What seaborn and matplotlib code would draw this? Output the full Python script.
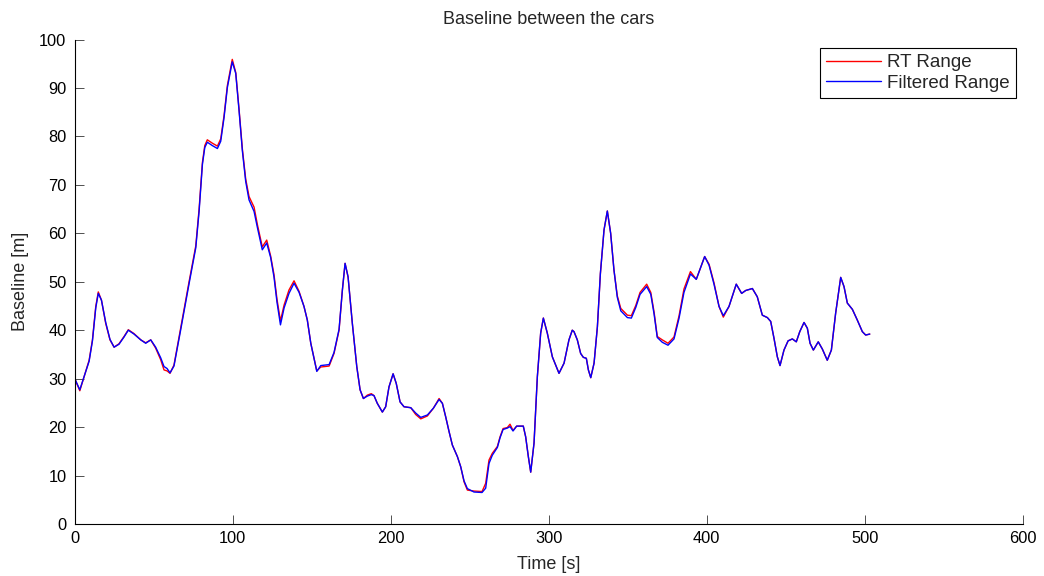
import matplotlib
matplotlib.use("Agg")
import matplotlib.pyplot as plt
import seaborn as sns
import pandas as pd

# values
time_s = [
    0.0, 3.2, 5.9, 9.1, 11.2, 13.3, 14.9, 16.9, 19.6, 22.3, 24.9, 28.0, 31.2, 33.9,
    37.5, 41.8, 44.9, 48.1, 51.2, 54.4, 56.5, 58.4, 60.3, 62.8, 66.9, 72.3, 76.6,
    78.7, 80.8, 82.3, 83.9, 87.1, 90.3, 92.4, 94.5, 96.6, 99.7, 101.9, 104.0, 106.1,
    108.2, 110.3, 113.5, 115.6, 118.7, 121.5, 124.0, 126.1, 128.0, 130.2, 132.5,
    135.6, 138.8, 142.0, 145.1, 147.2, 149.4, 153.2, 155.7, 161.0, 164.1, 167.3,
    169.4, 171.1, 173.0, 175.7, 178.5, 180.6, 182.7, 185.2, 187.7, 189.4, 191.5,
    194.7, 196.8, 198.9, 201.5, 203.5, 205.9, 208.4, 212.7, 215.8, 219.0, 223.2,
    227.0, 230.6, 232.7, 234.8, 236.9, 239.0, 242.2, 244.3, 246.4, 248.5, 252.7,
    257.8, 260.1, 262.2, 264.3, 267.5, 269.2, 271.1, 273.8, 275.5, 277.4, 279.7,
    283.9, 285.4, 287.1, 288.6, 290.7, 292.8, 294.9, 296.6, 299.1, 302.3, 306.5,
    309.7, 312.8, 314.9, 316.0, 318.1, 320.2, 321.9, 323.8, 325.1, 326.6, 328.7,
    330.8, 332.7, 335.0, 337.1, 339.2, 341.3, 343.4, 345.6, 349.8, 352.3, 355.1,
    357.8, 362.0, 364.6, 366.7, 368.7, 371.9, 375.5, 379.3, 382.5, 385.6, 389.7,
    393.4, 398.7, 401.5, 404.6, 407.8, 410.5, 414.1, 418.7, 422.1, 424.7, 428.9,
    432.0, 435.2, 438.4, 440.5, 442.6, 444.7, 446.4, 448.9, 451.5, 454.2, 456.7,
    458.9, 461.6, 463.7, 465.4, 467.5, 470.6, 473.2, 476.3, 478.9, 481.6, 484.8,
    486.9, 489.0, 492.2, 495.3, 498.5, 500.6, 503.2,
]
rt_range = [
    30.0, 27.5, 30.4, 33.8, 38.0, 44.9, 47.9, 46.2, 41.4, 38.0, 36.5, 37.2, 38.7, 40.1,
    39.3, 38.0, 37.4, 38.0, 36.3, 33.9, 31.8, 31.6, 31.1, 32.8, 40.2, 49.9, 57.4,
    65.0, 74.6, 78.1, 79.3, 78.6, 78.0, 79.5, 84.3, 90.5, 95.9, 93.2, 85.6, 77.4,
    71.2, 67.6, 65.4, 61.8, 57.2, 58.6, 55.3, 51.5, 46.4, 41.9, 45.2,
    48.3, 50.2, 48.0, 44.9, 42.1, 37.3, 31.6, 32.4, 32.6, 35.2, 40.0,
    48.3, 53.8, 51.0, 41.4, 32.5, 27.7, 25.9, 26.6, 26.9, 26.5, 24.9,
    23.1, 24.2, 28.3, 31.0, 29.0, 25.2, 24.2, 24.0, 22.6, 21.7, 22.3,
    23.9, 25.9, 24.9, 22.1, 19.1, 16.3, 13.9, 11.8, 8.7, 7.0, 6.8,
    6.7, 8.4, 13.2, 14.6, 16.0, 18.0, 19.7, 19.9, 20.6, 19.3, 20.2,
    20.2, 18.0, 13.9, 10.7, 16.7, 30.4, 39.4, 42.5, 39.4, 34.5, 31.1,
    33.2, 38.0, 40.0, 39.7, 38.0, 35.2, 34.4, 34.2, 31.8, 30.2, 33.2,
    40.7, 51.7, 60.7, 64.6, 60.0, 52.4, 47.1, 44.5, 43.1, 43.0, 45.1,
    47.8, 49.5, 47.8, 43.7, 38.7, 38.0, 37.3, 38.6, 43.0, 48.5, 52.1,
    50.5, 55.2, 53.6, 49.8, 44.9, 42.7, 44.9, 49.5, 47.6, 48.2, 48.6,
    46.9, 43.1, 42.6, 41.8, 38.3, 34.5, 32.7, 35.9, 37.8, 38.2, 37.6,
    39.7, 41.6, 40.4, 37.3, 35.9, 37.6, 36.1, 33.8, 35.9, 43.5, 50.9,
    49.0, 45.6, 44.3, 42.1, 39.7, 39.0, 39.2,
]
filtered_range = [
    30.0, 27.7, 30.4, 33.6, 37.8, 44.6, 47.6, 46.2, 41.6, 38.1, 36.5, 37.1, 38.6, 40.0,
    39.2, 38.0, 37.3, 38.0, 36.5, 34.3, 32.5, 32.1, 31.2, 32.6, 39.8, 49.5, 57.0,
    64.5, 74.2, 77.7, 78.8, 78.1, 77.5, 79.0, 83.9, 90.1, 95.4, 93.0, 85.3, 77.0,
    70.7, 66.9, 64.5, 61.2, 56.6, 58.0, 55.0, 51.0, 45.8, 41.1, 44.6,
    47.6, 49.7, 47.8, 44.9, 42.1, 37.3, 31.5, 32.7, 32.9, 35.4, 40.2,
    48.3, 53.8, 51.0, 41.4, 32.5, 27.7, 25.9, 26.4, 26.7, 26.5, 24.9,
    23.1, 24.2, 28.3, 31.0, 29.0, 25.2, 24.2, 24.0, 22.9, 22.0, 22.5,
    23.9, 25.7, 24.9, 22.1, 19.1, 16.3, 13.9, 11.8, 8.9, 7.3, 6.6,
    6.5, 7.4, 12.5, 14.2, 15.8, 17.8, 19.5, 19.8, 20.1, 19.2, 20.2,
    20.2, 18.0, 13.9, 10.7, 16.7, 30.4, 39.4, 42.5, 39.4, 34.5, 31.1,
    33.2, 38.0, 40.0, 39.7, 38.0, 35.2, 34.4, 34.2, 31.8, 30.2, 33.2,
    40.7, 51.7, 60.7, 64.6, 60.0, 52.4, 46.8, 44.0, 42.6, 42.5, 44.7,
    47.4, 49.0, 47.4, 43.3, 38.5, 37.5, 36.9, 38.2, 42.5, 47.8, 51.6,
    50.5, 55.2, 53.4, 49.5, 44.9, 43.0, 44.9, 49.5, 47.6, 48.2, 48.6,
    46.9, 43.1, 42.6, 41.8, 38.3, 34.5, 32.7, 35.9, 37.8, 38.2, 37.6,
    39.7, 41.6, 40.4, 37.3, 35.9, 37.6, 36.1, 33.8, 35.9, 43.5, 50.9,
    49.0, 45.6, 44.3, 42.1, 39.7, 39.0, 39.2,
]

df = pd.DataFrame({"time": time_s, "rt": rt_range, "filt": filtered_range})

sns.set_style("ticks")
plt.rcParams["font.family"] = ["Liberation Sans", "DejaVu Sans"]

fig = plt.figure(figsize=(10.44, 5.76), dpi=100)
ax = fig.add_axes([0.0716, 0.0903, 0.908, 0.8411])

sns.lineplot(data=df, x="time", y="rt", color=(1, 0, 0), linewidth=1.0,
             sort=False, estimator=None, label="RT Range", ax=ax)
sns.lineplot(data=df, x="time", y="filt", color=(0, 0, 1), linewidth=1.0,
             sort=False, estimator=None, label="Filtered Range", ax=ax)

ax.set_xlim(0, 600)
ax.set_ylim(0, 100)
ax.set_xticks(range(0, 601, 100))
ax.set_yticks(range(0, 101, 10))
ax.tick_params(direction="in", length=6.5, width=0.6, color="#333333",
               labelsize=11.8, labelcolor="black")
ax.tick_params(axis="x", pad=5)
ax.tick_params(axis="y", pad=6)
for side in ["top", "right"]:
    ax.spines[side].set_visible(False)
for side in ["left", "bottom"]:
    ax.spines[side].set_color("black")
    ax.spines[side].set_linewidth(0.8)

ax.set_title("Baseline between the cars", fontsize=13, pad=11)
ax.set_xlabel("Time [s]", fontsize=13, labelpad=7)
ax.set_ylabel("Baseline [m]", fontsize=13, labelpad=7)

leg = ax.legend(loc="upper right", bbox_to_anchor=(0.9926, 0.9818), borderaxespad=0,
                fancybox=False, framealpha=1, edgecolor="black", fontsize=13.5,
                handlelength=2.95, handletextpad=0.35, borderpad=0.3, labelspacing=0.2)
leg.get_frame().set_linewidth(0.8)

fig.savefig("out.png", dpi=100)
